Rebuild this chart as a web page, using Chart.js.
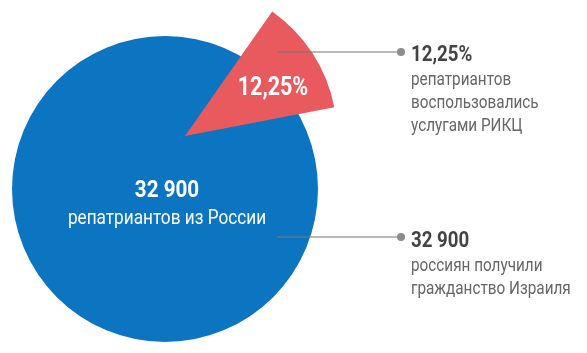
<!DOCTYPE html>
<html>
<head>
<meta charset="utf-8">
<script src="https://cdn.jsdelivr.net/npm/chart.js@4"></script>
<style>
  html, body { margin: 0; padding: 0; background: #fff; }
  body { width: 587px; height: 353px; position: relative; overflow: hidden;
         font-family: "Roboto", sans-serif; }
  canvas { position: absolute; }
  #totalChart { left: 12px; top: 36px; }
  #shareChart { left: 33px; top: -16px; }
  #leaders { position: absolute; left: 0; top: 0; }
  .note { position: absolute; left: 411px; color: #666; font-size: 18px; line-height: 23px;
          white-space: nowrap; transform: scaleX(0.85); transform-origin: left top; }
  .note b { display: block; color: #444; font-size: 22px; line-height: 27px; }
  .inside { position: absolute; color: #fff; text-align: center; white-space: nowrap;
            transform: scaleX(0.86); transform-origin: center top; }
</style>
</head>
<body>
<canvas id="totalChart" width="306" height="306"></canvas>
<canvas id="shareChart" width="304" height="304"></canvas>

<svg id="leaders" width="587" height="353">
  <line x1="277" y1="52" x2="401" y2="52" stroke="rgba(120,120,120,0.7)" stroke-width="1.5"/>
  <circle cx="401" cy="52" r="4" fill="#8c8c8c"/>
  <line x1="277" y1="237" x2="401" y2="237" stroke="rgba(120,120,120,0.7)" stroke-width="1.5"/>
  <circle cx="401" cy="237" r="4" fill="#8c8c8c"/>
</svg>

<div class="inside" id="totalText" style="left:17px; top:175px; width:300px;">
  <div id="totalNum" style="font-weight:bold; font-size:24px; line-height:28px;"></div>
  <div style="font-size:20px; line-height:28px;">репатриантов из России</div>
</div>
<div class="inside" id="shareText" style="left:223px; top:72px; width:100px; font-weight:bold; font-size:25px; line-height:30px;"></div>

<div class="note" style="top:40px;">
  <b id="shareNote"></b>репатриантов<br>воспользовались<br>услугами РИКЦ
</div>
<div class="note" style="top:226px;">
  <b id="totalNote"></b>россиян получили<br>гражданство Израиля
</div>

<script>
const shareLabels = ['воспользовались услугами РИКЦ', 'остальные'];
const shareValues = [12.25, 87.75];
const totalLabels = ['репатриантов из России'];
const totalValues = [32900];

const blue = 'rgb(11, 117, 193)';
const red = 'rgb(232, 90, 94)';

function fmtPercent(v) {
    return v.toFixed(2).replace('.', ',') + '%';
}

function fmtNumber(v) {
    return v.toLocaleString('ru-RU').replace(/\s/g, ' ');
}

const baseOptions = {
    responsive: false,
    animation: false,
    events: [],
    layout: { padding: 0 },
    plugins: {
        legend: { display: false },
        tooltip: { enabled: false }
    }
};

// full circle: all repatriants
new Chart(document.getElementById('totalChart'), {
    type: 'pie',
    data: {
        labels: totalLabels,
        datasets: [{
            data: totalValues,
            backgroundColor: [blue],
            borderWidth: 0
        }]
    },
    options: baseOptions
});

// pulled-out slice sitting on top
new Chart(document.getElementById('shareChart'), {
    type: 'pie',
    data: {
        labels: shareLabels,
        datasets: [{
            data: shareValues,
            backgroundColor: [red, 'rgba(0,0,0,0)'],
            borderWidth: 0
        }]
    },
    options: Object.assign({}, baseOptions, { rotation: 35 })
});

document.getElementById('totalNum').textContent = fmtNumber(totalValues[0]);
document.getElementById('totalNote').textContent = fmtNumber(totalValues[0]);
document.getElementById('shareText').textContent = fmtPercent(shareValues[0]);
document.getElementById('shareNote').textContent = fmtPercent(shareValues[0]);
</script>
</body>
</html>
